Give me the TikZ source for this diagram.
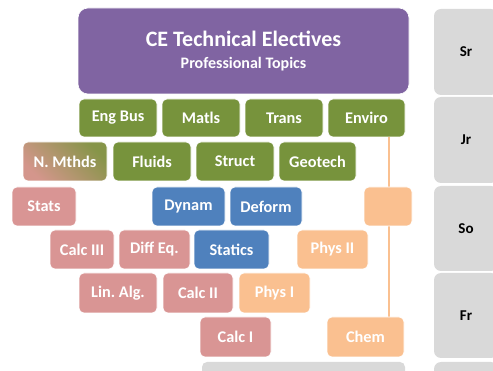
\documentclass[tikz,border=0pt]{standalone}
\usepackage{fontspec}
\setmainfont{Carlito}
\frenchspacing
\begin{document}
\begin{tikzpicture}[x=1pt,y=-1pt,
  box/.style={rounded corners=5pt, draw=white, line width=0.6pt, text=white,
    font=\bfseries\fontsize{16.3}{18}\selectfont, inner sep=0pt, minimum height=39pt},
  upper/.style={box, fill=purplec},
  eng/.style={box, fill=greenc},
  mech/.style={box, fill=bluec},
  math/.style={box, fill=pinkc},
  sci/.style={box, fill=orangec},
  year/.style={rounded corners=7pt, fill=grayc, text=black, inner sep=0pt,
    font=\bfseries\fontsize{15}{17}\selectfont, minimum width=64pt},
  link/.style={draw=orangec, line width=2pt}
]
\definecolor{purplec}{HTML}{8064A2}
\definecolor{greenc}{HTML}{77933C}
\definecolor{bluec}{HTML}{4F81BD}
\definecolor{pinkc}{HTML}{D99594}
\definecolor{orangec}{HTML}{FAC090}
\definecolor{grayc}{HTML}{D9D9D9}
\definecolor{olivec}{HTML}{869548}
\definecolor{rosec}{HTML}{D4968C}

\useasboundingbox (0,0) rectangle (493,371);
\clip (0,0) rectangle (493,371);

% chemistry prerequisite line, drawn beneath the boxes
\coordinate (linetop) at (389,137);
\coordinate (linebot) at (389,317);

% year bands on the right
\node[year, minimum height=86pt] (sr) at (466,52) {Sr};
\node[year, minimum height=86pt] (jr) at (466,140) {Jr};
\node[year, minimum height=85pt] (so) at (466,228.5) {So};
\node[year, minimum height=85pt] (fr) at (466,315.5) {Fr};
\node[year, minimum height=40pt] (yb) at (466,382) {};
\node[rounded corners=5pt, fill=grayc, inner sep=0pt, minimum width=203pt, minimum height=40pt] (base) at (303.5,382) {};

% top level
\node[upper, rounded corners=10pt, minimum width=331pt, minimum height=86pt, align=center,
      font=\bfseries\fontsize{22}{24}\selectfont] (top) at (243.5,51)
  {CE Technical Electives\\[-2pt]{\fontsize{16}{18}\selectfont Professional Topics}};

% junior / senior engineering courses
\node[eng, minimum width=78pt, minimum height=38pt] (engbus) at (118,118) {Eng Bus};
\node[eng, minimum width=78pt, minimum height=38pt] (matls) at (201,118) {Matls};
\node[eng, minimum width=78pt, minimum height=38pt] (trans) at (284,118) {Trans};
\node[eng, minimum width=77pt, minimum height=38pt] (enviro) at (366.5,118) {Enviro};

\node[box, minimum width=84pt, shading=axis, top color=olivec, bottom color=rosec,
      shading angle=-45] (nmthds) at (65,161.5) {N. Mthds};
\node[eng, minimum width=78pt] (fluids) at (152,161.5) {Fluids};
\node[eng, minimum width=78pt] (struct) at (235,161.5) {Struct};
\node[eng, minimum width=77pt] (geotech) at (317.5,161.5) {Geotech};

% sophomore level
\node[math, minimum width=64pt] (stats) at (44,206.5) {Stats};
\node[mech, minimum width=73pt] (dynam) at (188.5,206.5) {Dynam};
\node[mech, minimum width=72pt] (deform) at (266,206.5) {Deform};

\draw[link] (linetop) -- (linebot);
\node[sci, minimum width=48pt] (blank) at (388,206.5) {};

\node[math, minimum width=64pt] (calciii) at (82,249.5) {Calc III};
\node[math, minimum width=71pt] (diffeq) at (154.5,249.5) {Diff Eq.};
\node[mech, minimum width=75pt] (statics) at (231.5,249.5) {Statics};
\node[sci, minimum width=71pt] (physii) at (332.5,249.5) {Phys II};

% freshman level
\node[math, minimum width=78pt, minimum height=40pt] (linalg) at (118,293) {Lin. Alg.};
\node[math, minimum width=70pt, minimum height=40pt] (calcii) at (198,293) {Calc II};
\node[sci, minimum width=71pt, minimum height=40pt] (physi) at (274.5,293) {Phys I};

\node[math, minimum width=71pt, minimum height=40pt] (calci) at (235.5,337) {Calc I};
\node[sci, minimum width=77pt, minimum height=40pt] (chem) at (365.5,337) {Chem};
\end{tikzpicture}
\end{document}
